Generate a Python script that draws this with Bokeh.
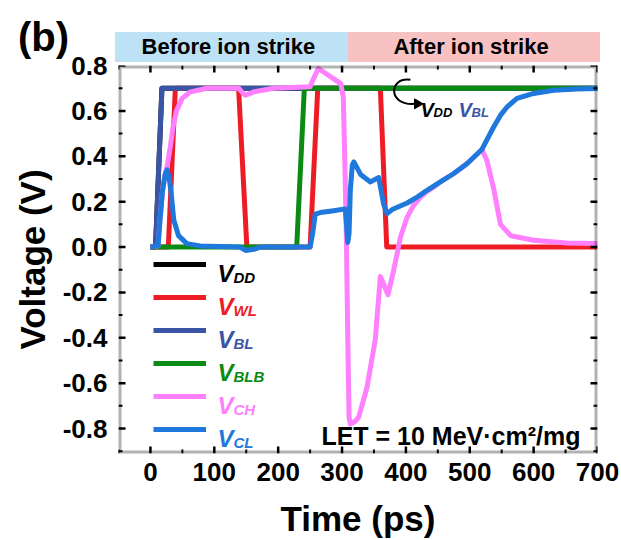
import math
from bokeh.plotting import figure
from bokeh.layouts import column
from bokeh.models import (FixedTicker, NumeralTickFormatter, Range1d, BoxAnnotation,
                          Label, Legend, LegendItem, Div)
from bokeh.embed import file_html
from bokeh.resources import INLINE

FONT = "Liberation Sans"

# ---------------- data (time in ps, voltage in V) ----------------
t_dd = [0, 8, 18, 700]
v_dd = [0.0, 0.0, 0.70, 0.70]

t_wl = [0, 28, 39, 138, 151, 250, 262, 360, 370, 700]
v_wl = [0.0, 0.0, 0.70, 0.70, 0.0, 0.0, 0.70, 0.70, 0.0, 0.0]

t_bl = [0, 8, 18, 700]
v_bl = [0.0, 0.0, 0.70, 0.70]

t_blb = [0, 229, 241, 700]
v_blb = [0.0, 0.0, 0.70, 0.70]

t_ch = [0, 12, 15, 19, 23, 26, 31, 35.5, 40.7, 49.6, 62.6, 88.8, 138, 144, 149, 162, 193,
        250, 255, 263, 298, 302, 305, 307, 309, 311, 313, 320, 326, 339, 352, 360, 372, 381,
        391.5, 402, 412, 423, 433, 444, 454, 475, 496, 519, 527, 538, 548, 564, 600, 652, 700]
v_ch = [0, 0.005, 0.12, 0.25, 0.32, 0.353, 0.44, 0.53, 0.60, 0.655, 0.684, 0.70, 0.70, 0.68,
        0.669, 0.684, 0.70, 0.706, 0.74, 0.787, 0.72, 0.66, 0.30, 0.0, -0.40, -0.75, -0.78,
        -0.77, -0.75, -0.62, -0.41, -0.13, -0.21, -0.10, 0.044, 0.132, 0.184, 0.22, 0.245,
        0.265, 0.287, 0.324, 0.368, 0.43, 0.38, 0.25, 0.10, 0.05, 0.03, 0.018, 0.015]

t_cl = [0, 12, 15, 19, 23, 26, 29, 32, 36.5, 44, 57, 78, 140, 149, 162, 172, 250, 254, 258,
        266, 287, 305, 307, 309, 311, 313, 316, 318.5, 329, 344.5, 357.5, 365, 370.5, 378.5,
        402, 417.6, 433, 454, 475, 496, 519, 537.6, 548, 558.6, 574, 600, 631.6, 668, 700]
v_cl = [0, 0.005, 0.12, 0.25, 0.32, 0.34, 0.31, 0.25, 0.12, 0.05, 0.015, 0.005, 0.0, -0.015,
        -0.01, 0.0, 0.0, 0.06, 0.145, 0.152, 0.16, 0.168, 0.10, 0.02, 0.06, 0.25, 0.36, 0.375,
        0.32, 0.287, 0.306, 0.19, 0.147, 0.165, 0.194, 0.22, 0.25, 0.287, 0.324, 0.368, 0.43,
        0.53, 0.58, 0.618, 0.655, 0.677, 0.691, 0.696, 0.699]

series_subs = ["DD", "WL", "BL", "BLB", "CH", "CL"]
series_colors = ["#000000", "#EE1C25", "#3A55A5", "#0B8A14", "#FF80FF", "#1F78DC"]
series_t = [t_dd, t_wl, t_bl, t_blb, t_ch, t_cl]
series_v = [v_dd, v_wl, v_bl, v_blb, v_ch, v_cl]

x_major = [0, 100, 200, 300, 400, 500, 600, 700]
x_minor = [-50, 50, 150, 250, 350, 450, 550, 650]
y_major = [-0.8, -0.6, -0.4, -0.2, 0.0, 0.2, 0.4, 0.6, 0.8]
y_minor = [-0.9, -0.7, -0.5, -0.3, -0.1, 0.1, 0.3, 0.5, 0.7]

phase_names = ["Before ion strike", "After ion strike"]
phase_edges = [-55, 310, 705]
phase_colors = ["#BDE2F6", "#F8C2C2"]

# ---------------- geometry ----------------
X_LO, X_HI = -50, 700
Y_LO, Y_HI = -0.91, 0.8
LEFT, FRAME_W, FRAME_H, RIGHT = 118, 479, 388, 23
TOTAL_W = LEFT + FRAME_W + RIGHT
STRIP_H, OVERLAP = 62, 20
PX_PER_T = FRAME_W / (X_HI - X_LO)


def t_to_px(t):
    return LEFT + (t - X_LO) * PX_PER_T


# ---------------- top strip (phase bands, panel letter) ----------------
parts = ['<div style="position:relative;width:%dpx;height:%dpx;">' % (TOTAL_W, STRIP_H)]
for name, t0, t1, col in zip(phase_names, phase_edges[:-1], phase_edges[1:], phase_colors):
    l, r = t_to_px(t0), t_to_px(t1)
    parts.append(
        '<div style="position:absolute;left:%.1fpx;top:32px;width:%.1fpx;height:30px;'
        'box-sizing:border-box;padding-right:6px;background:%s;color:black;'
        "font-family:'Liberation Sans';font-weight:bold;font-size:22px;line-height:30px;"
        'text-align:center;white-space:nowrap;">%s</div>' % (l, r - l, col, name))
parts.append(
    '<div style="position:absolute;left:18px;top:17px;color:black;'
    "font-family:'Liberation Sans';font-weight:bold;font-size:40px;line-height:40px;"
    'white-space:nowrap;">(b)</div>')
parts.append('</div>')
strip = Div(text="".join(parts), width=TOTAL_W, height=STRIP_H, margin=(0, 0, -OVERLAP, 0))

# ---------------- main figure ----------------
p = figure(frame_width=FRAME_W, frame_height=FRAME_H, title=None,
           x_range=Range1d(X_LO, X_HI), y_range=Range1d(Y_LO, Y_HI),
           output_backend="svg", toolbar_location=None,
           min_border_left=LEFT, min_border_right=RIGHT, min_border_top=65 - (STRIP_H - OVERLAP),
           min_border_bottom=85)
p.grid.visible = False
p.outline_line_color = None
p.background_fill_color = None
p.border_fill_color = None

p.xaxis.ticker = FixedTicker(ticks=x_major, minor_ticks=x_minor)
p.yaxis.ticker = FixedTicker(ticks=y_major, minor_ticks=y_minor)
p.yaxis.formatter = NumeralTickFormatter(format="0.0")
p.xaxis.axis_label = "Time (ps)"
p.yaxis.axis_label = "Voltage (V)"
for ax in [p.xaxis[0], p.yaxis[0]]:
    ax.axis_line_color = None
    ax.major_tick_line_color = None
    ax.minor_tick_line_color = None
    ax.major_tick_in = 0
    ax.major_tick_out = 0
    ax.minor_tick_in = 0
    ax.minor_tick_out = 0
    ax.major_label_text_font = FONT
    ax.major_label_text_font_style = "bold"
    ax.major_label_text_color = "black"
    ax.major_label_text_font_size = "26px"
    ax.axis_label_text_font = FONT
    ax.axis_label_text_font_style = "bold"
    ax.axis_label_text_font_size = "35px"
    ax.axis_label_text_color = "black"
p.xaxis.major_label_standoff = 9
p.yaxis.major_label_standoff = 11
p.xaxis.axis_label_standoff = 15
p.yaxis.axis_label_standoff = 8

# ---------------- curves ----------------
renderers = []
for t, v, c in zip(series_t, series_v, series_colors):
    r = p.line(t, v, line_color=c, line_width=5, line_join="round")
    renderers.append(r)

# ---------------- frame box and inward ticks ----------------
p.add_layout(BoxAnnotation(fill_alpha=0, line_color="black", line_width=6))
for ticks, length, lw in [(x_major, 7, 2.5), (x_minor, 4, 2)]:
    n = len(ticks)
    p.ray(x=ticks, y=[Y_LO] * n, length=length, angle=math.pi / 2, length_units="screen",
          line_color="black", line_width=lw)
    p.ray(x=ticks, y=[Y_HI] * n, length=length, angle=-math.pi / 2, length_units="screen",
          line_color="black", line_width=lw)
for ticks, length, lw in [(y_major, 7, 2.5), (y_minor, 4, 2)]:
    n = len(ticks)
    p.ray(x=[X_LO] * n, y=ticks, length=length, angle=0, length_units="screen",
          line_color="black", line_width=lw)
    p.ray(x=[X_HI] * n, y=ticks, length=length, angle=math.pi, length_units="screen",
          line_color="black", line_width=lw)

# ---------------- legend ----------------
legend = Legend(items=[LegendItem(label=" ", renderers=[r]) for r in renderers],
                location=(35, 14), orientation="vertical", glyph_width=53, glyph_height=20,
                label_height=20, label_width=0, label_standoff=0, spacing=13, padding=0,
                margin=0, border_line_alpha=0, background_fill_alpha=0,
                label_text_font_size="10px")
p.add_layout(legend, "center")

for i, (sub, col) in enumerate(zip(series_subs, series_colors)):
    ybase = 180 - 33 * i
    p.add_layout(Label(x=99, y=ybase, x_units="screen", y_units="screen", text="V",
                       text_font=FONT, text_font_style="bold italic", text_font_size="24px",
                       text_color=col, text_baseline="alphabetic"))
    p.add_layout(Label(x=115, y=ybase - 4, x_units="screen", y_units="screen", text=sub,
                       text_font=FONT, text_font_style="bold italic", text_font_size="15px",
                       text_color=col, text_baseline="alphabetic"))

# ---------------- annotations ----------------
p.bezier(x0=[407], y0=[0.737], x1=[414], y1=[0.631], cx0=[372], cy0=[0.75], cx1=[372],
         cy1=[0.62], line_color="black", line_width=2)
p.scatter(x=[418], y=[0.631], marker="triangle", size=10, angle=-math.pi / 2,
          fill_color="black", line_color="black")

ann = [("V", 302, 344, "20px", "#000000"), ("DD", 315, 341, "13px", "#000000"),
       ("V", 340, 344, "20px", "#3A55A5"), ("BL", 353, 341, "13px", "#3A55A5")]
for txt, ax_, ay_, fs, col in ann:
    p.add_layout(Label(x=ax_, y=ay_, x_units="screen", y_units="screen", text=txt,
                       text_font=FONT, text_font_style="bold italic", text_font_size=fs,
                       text_color=col, text_baseline="alphabetic"))

p.add_layout(Label(x=462, y=18, x_units="screen", y_units="screen",
                   text="LET = 10 MeV\u00b7cm\u00b2/mg", text_align="right",
                   text_baseline="alphabetic", text_font=FONT, text_font_style="bold",
                   text_font_size="25px", text_color="black"))

layout = column(strip, p, spacing=0)
open("out.html", "w").write(file_html(layout, INLINE))
